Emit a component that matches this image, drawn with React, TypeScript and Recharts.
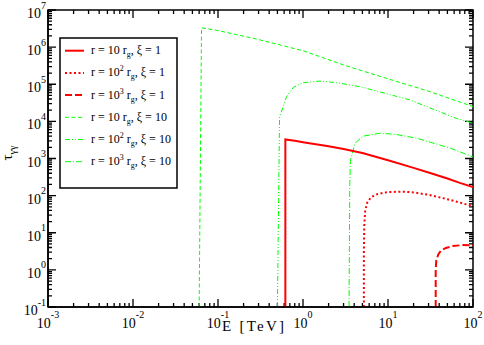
import React from 'react';
import { LineChart, Line, XAxis, YAxis } from 'recharts';

const FONT = '"Liberation Serif", "Times New Roman", serif';
const RED = '#ff0000';
const GREEN = '#00ff00';

// plot box (chart pixels), used for the frame and the inward tick marks
const PLOT_X = 48;
const PLOT_Y = 10;
const PLOT_W = 425;
const PLOT_H = 297;

// axis ranges and tick labels (powers of ten)
const X_DOMAIN = [1e-3, 1e2];
const Y_DOMAIN = [1e-1, 1e7];
const X_EXPONENTS = [-3, -2, -1, 0, 1, 2];
const Y_EXPONENTS = [-1, 0, 1, 2, 3, 4, 5, 6, 7];
const MINOR_STEPS = [2, 3, 4, 5, 6, 7, 8, 9];

// tau_gg vs E [TeV]
const r10xi1 = [
  { E: 0.62, tau: 0.1 }, { E: 0.62, tau: 3270 }, { E: 0.8, tau: 3000 }, { E: 1, tau: 2750 },
  { E: 2, tau: 2150 }, { E: 3, tau: 1800 }, { E: 5, tau: 1400 }, { E: 10, tau: 900 },
  { E: 20, tau: 560 }, { E: 30, tau: 420 }, { E: 50, tau: 290 }, { E: 70, tau: 220 }, { E: 100, tau: 170 },
];
const r100xi1 = [
  { E: 5.2, tau: 0.1 }, { E: 5.2, tau: 3 }, { E: 5.25, tau: 15 }, { E: 5.4, tau: 40 },
  { E: 5.7, tau: 65 }, { E: 6.3, tau: 90 }, { E: 7.5, tau: 110 }, { E: 10, tau: 125 },
  { E: 15, tau: 128 }, { E: 20, tau: 122 }, { E: 30, tau: 105 }, { E: 50, tau: 80 },
  { E: 70, tau: 65 }, { E: 100, tau: 52 },
];
const r1000xi1 = [
  { E: 36.4, tau: 0.1 }, { E: 36.4, tau: 1 }, { E: 37, tau: 1.8 }, { E: 39, tau: 2.6 },
  { E: 42, tau: 3.3 }, { E: 48, tau: 3.9 }, { E: 58, tau: 4.4 }, { E: 75, tau: 4.65 }, { E: 100, tau: 4.6 },
];
const r10xi10 = [
  { E: 0.06, tau: 0.1 }, { E: 0.064, tau: 3.3e6 }, { E: 0.1, tau: 2.8e6 }, { E: 0.3, tau: 1.6e6 },
  { E: 1, tau: 8.0e5 }, { E: 3, tau: 3.3e5 }, { E: 10, tau: 1.4e5 }, { E: 30, tau: 6.5e4 }, { E: 100, tau: 2.5e4 },
];
const r100xi10 = [
  { E: 0.5, tau: 0.1 }, { E: 0.53, tau: 1.3e4 }, { E: 0.64, tau: 4.6e4 }, { E: 0.77, tau: 8.3e4 },
  { E: 1.0, tau: 1.1e5 }, { E: 1.58, tau: 1.22e5 }, { E: 2.5, tau: 1.1e5 }, { E: 4.7, tau: 8.6e4 },
  { E: 18, tau: 3.8e4 }, { E: 64, tau: 1.2e4 }, { E: 100, tau: 9.0e3 },
];
const r1000xi10 = [
  { E: 3.48, tau: 0.1 }, { E: 3.55, tau: 200 }, { E: 3.62, tau: 900 }, { E: 4.1, tau: 2600 },
  { E: 5.1, tau: 4000 }, { E: 8, tau: 4800 }, { E: 12, tau: 4500 }, { E: 22, tau: 3500 },
  { E: 54, tau: 1900 }, { E: 100, tau: 1100 },
];

const SERIES = [
  { sup: '', xi: '10', data: r10xi10, color: GREEN, width: 1, dash: '4 2.5' },
  { sup: '2', xi: '10', data: r100xi10, color: GREEN, width: 1, dash: '5 2 1 2 1 2' },
  { sup: '3', xi: '10', data: r1000xi10, color: GREEN, width: 1, dash: '6 2 1 2' },
  { sup: '', xi: '1', data: r10xi1, color: RED, width: 2, dash: undefined },
  { sup: '2', xi: '1', data: r100xi1, color: RED, width: 2, dash: '2 2.5' },
  { sup: '3', xi: '1', data: r1000xi1, color: RED, width: 2, dash: '7 3' },
];
const LEGEND_ORDER = [3, 4, 5, 0, 1, 2];

const xMajor = X_EXPONENTS.map((e) => Math.pow(10, e));
const yMajor = Y_EXPONENTS.map((e) => Math.pow(10, e));
const minorsOf = (exps: number[]) =>
  exps.slice(0, -1).flatMap((e) => MINOR_STEPS.map((m) => m * Math.pow(10, e)));
const xMinor = minorsOf(X_EXPONENTS);
const yMinor = minorsOf(Y_EXPONENTS);

// inward tick marks on all four sides of the frame, same log mapping as the axes
const xPix = (v: number) =>
  PLOT_X + ((Math.log10(v) - Math.log10(X_DOMAIN[0])) / (Math.log10(X_DOMAIN[1]) - Math.log10(X_DOMAIN[0]))) * PLOT_W;
const yPix = (v: number) =>
  PLOT_Y + PLOT_H - ((Math.log10(v) - Math.log10(Y_DOMAIN[0])) / (Math.log10(Y_DOMAIN[1]) - Math.log10(Y_DOMAIN[0]))) * PLOT_H;
const tickPath = () => {
  const parts: string[] = [];
  const bottom = PLOT_Y + PLOT_H;
  const right = PLOT_X + PLOT_W;
  const addX = (v: number, len: number) => {
    const x = xPix(v).toFixed(2);
    parts.push(`M${x},${bottom}V${bottom - len}M${x},${PLOT_Y}V${PLOT_Y + len}`);
  };
  const addY = (v: number, len: number) => {
    const y = yPix(v).toFixed(2);
    parts.push(`M${PLOT_X},${y}H${PLOT_X + len}M${right},${y}H${right - len}`);
  };
  xMajor.forEach((v) => addX(v, 8));
  xMinor.forEach((v) => addX(v, 4));
  yMajor.forEach((v) => addY(v, 8));
  yMinor.forEach((v) => addY(v, 4));
  return parts.join('');
};

const XLabel = (props: any) => {
  const { x, y, payload } = props;
  return (
    <text x={x} y={y + 21} textAnchor="middle" fontFamily={FONT} fontSize={14} fill="#000">
      <tspan>10</tspan>
      <tspan dy={-10} fontSize={10}>{Math.round(Math.log10(payload.value))}</tspan>
    </text>
  );
};

const YLabel = (props: any) => {
  const { x, y, payload } = props;
  return (
    <text x={x - 2} y={y + 8} textAnchor="end" fontFamily={FONT} fontSize={14} fill="#000">
      <tspan>10</tspan>
      <tspan dy={-9.5} fontSize={10}>{Math.round(Math.log10(payload.value))}</tspan>
    </text>
  );
};

const LEG_X = 60;
const LEG_Y = 38;
const LEG_ROW = 22.2;

export default function App() {
  return (
    <div style={{ position: 'absolute', left: 0, top: 0, width: 484, height: 345, background: '#fff' }}>
      <LineChart width={484} height={345} margin={{ top: 10, right: 11, bottom: 0, left: 0 }}>
        <XAxis
          dataKey="E" type="number" scale="log" domain={X_DOMAIN} allowDataOverflow
          ticks={xMajor} interval={0} tick={XLabel} tickLine={false} tickSize={0} tickMargin={0}
          height={38} axisLine={{ stroke: '#000', strokeWidth: 1.5 }}
        />
        <YAxis
          dataKey="tau" type="number" scale="log" domain={Y_DOMAIN} allowDataOverflow
          ticks={yMajor} interval={0} tick={YLabel} tickLine={false} tickSize={0} tickMargin={0}
          width={48} axisLine={{ stroke: '#000', strokeWidth: 1.5 }}
        />
        {SERIES.map((s, i) => (
          <Line
            key={i} data={s.data} dataKey="tau" type="linear" stroke={s.color}
            strokeWidth={s.width} strokeDasharray={s.dash} dot={false} activeDot={false} isAnimationActive={false}
          />
        ))}
        <path d={tickPath()} stroke="#000" strokeWidth={1.3} fill="none" />
        <rect x={PLOT_X} y={PLOT_Y} width={PLOT_W} height={PLOT_H} fill="none" stroke="#000" strokeWidth={1.5} />
        <g>
          <rect x={LEG_X} y={LEG_Y} width={117} height={150} fill="#fff" stroke="#000" strokeWidth={1.5} />
          {LEGEND_ORDER.map((idx, row) => {
            const s = SERIES[idx];
            const cy = LEG_Y + 12.7 + row * LEG_ROW;
            return (
              <g key={row}>
                <line x1={65} y1={cy} x2={84} y2={cy} stroke={s.color} strokeWidth={s.width} strokeDasharray={s.dash} />
                <text x={91} y={cy + 3.5} fontFamily={FONT} fontSize={12} fill="#000">
                  <tspan>r = 10</tspan>
                  {s.sup ? <tspan dy={-5} fontSize={8}>{s.sup}</tspan> : null}
                  <tspan dy={s.sup ? 5 : 0}>{' r'}</tspan>
                  <tspan dy={3} fontSize={8}>g</tspan>
                  <tspan dy={-3}>{`, ξ = ${s.xi}`}</tspan>
                </text>
              </g>
            );
          })}
        </g>
        <text x={253} y={331} textAnchor="middle" fontFamily={FONT} fontSize={15} textLength={62} lengthAdjust="spacing">
          E [TeV]
        </text>
        <text x={12} y={153} textAnchor="middle" fontFamily={FONT} fontSize={15} transform="rotate(-90 12 153)">
          <tspan>τ</tspan>
          <tspan dy={4} fontSize={10}>γγ</tspan>
        </text>
      </LineChart>
    </div>
  );
}
